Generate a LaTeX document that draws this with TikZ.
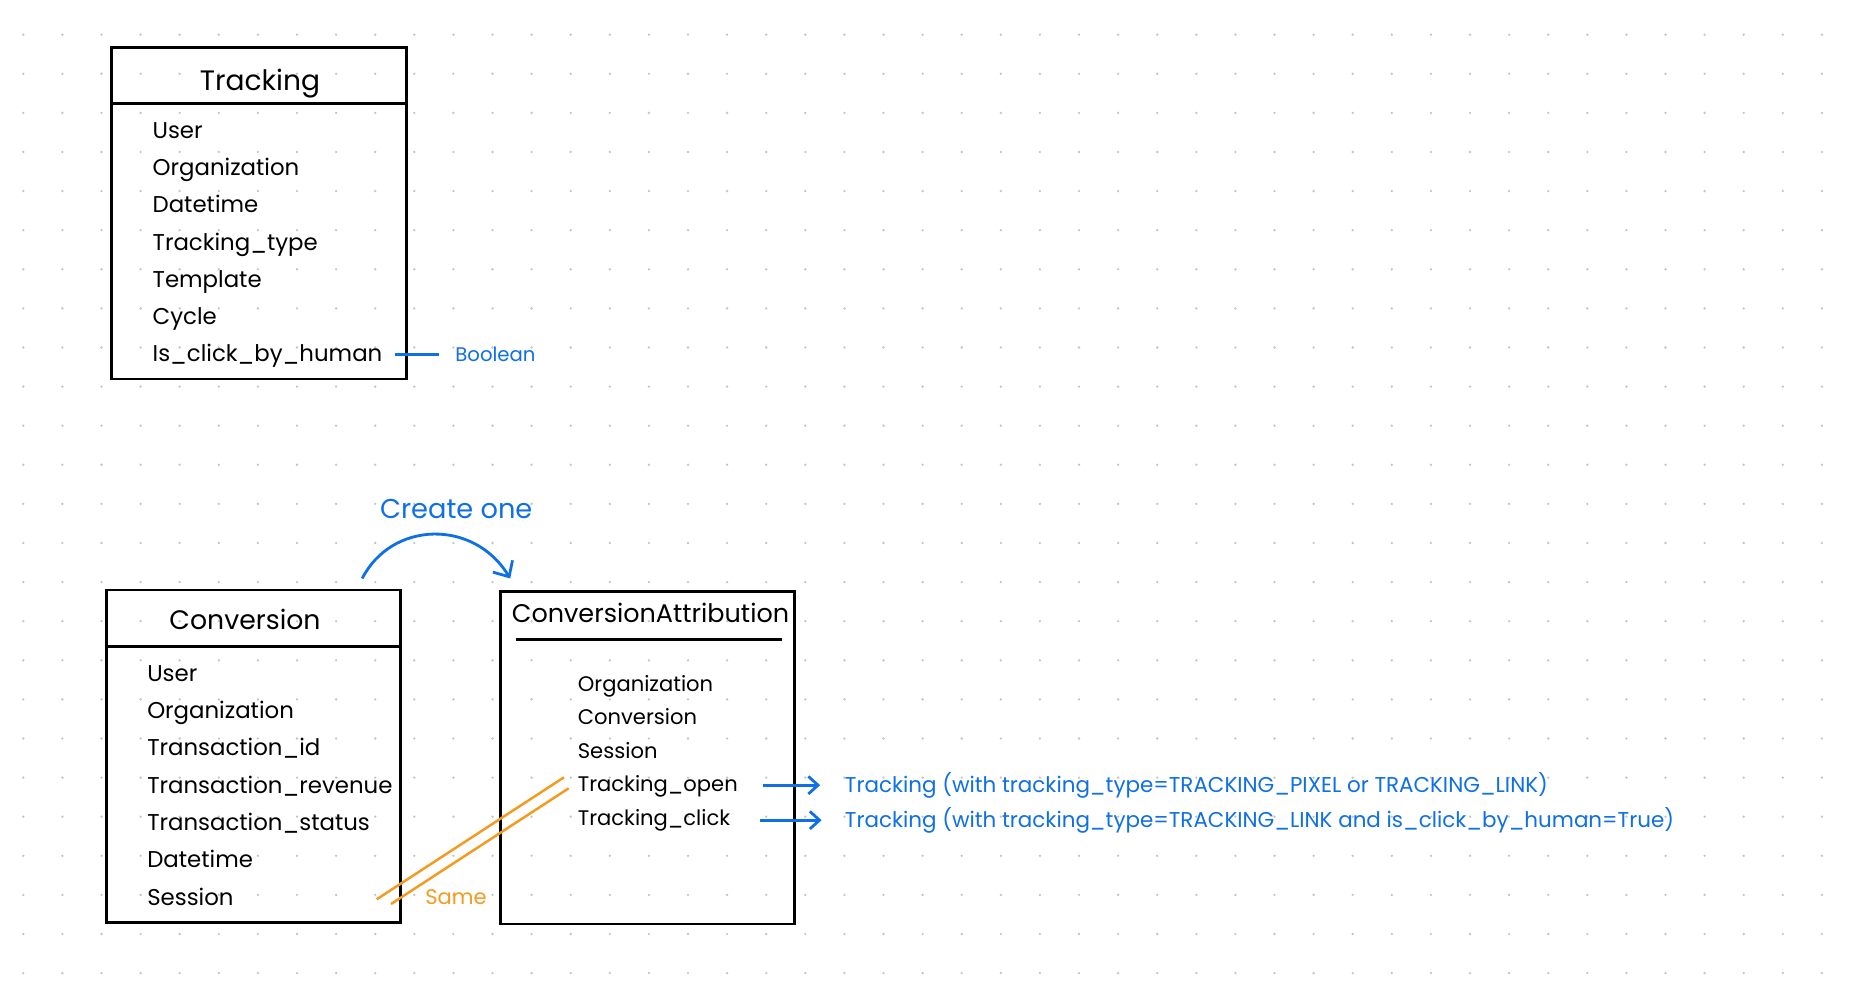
\documentclass[tikz,border=0pt]{standalone}
\usepackage{fontspec}
\setmainfont{Poppins}
\usepackage{tikz}
\usetikzlibrary{arrows.meta, positioning, calc}
\definecolor{sketchblue}{HTML}{0F6FE6}
\definecolor{sketchorange}{HTML}{F39A1F}
\definecolor{sketchdot}{HTML}{C4C4C4}

\begin{document}
\begin{tikzpicture}[
  entity/.style={draw, line width=1.7pt, inner sep=0pt},
  title/.style={anchor=base, inner sep=0pt, font=\fontsize{16}{19}\selectfont},
  fields/.style={anchor=base west, align=left, inner sep=0pt, font=\fontsize{13}{21.2}\selectfont},
  note/.style={anchor=base west, inner sep=0pt, text=sketchblue, font=\fontsize{12.2}{14}\selectfont},
  link/.style={sketchblue, line width=1.6pt},
  tip/.style={-{Straight Barb[length=5.5pt, width=10pt]}},
  same/.style={sketchorange, line width=1.4pt}
]
\useasboundingbox (0,0) rectangle (37.1,20);
% dotted canvas
\foreach \i in {0,...,46}
  \foreach \j in {0,...,24}
    \fill[sketchdot] (0.466+\i*0.782, 19.306-\j*0.782) circle (0.026);

% Tracking (fields node sits on its last line)
\node[entity, minimum width=5.886cm, minimum height=6.634cm] (trk) at (5.177,15.737) {};
\draw[line width=1.7pt] (trk.west |- 0,17.92) -- (trk.east |- 0,17.92);
\node[title] (trktitle) at (5.2,18.18) {Tracking};
\node[fields] (trkf) at (3.046,12.76) {User\\Organization\\Datetime\\Tracking\_type\\Template\\Cycle\\Is\_click\_by\_human};
\node[note, font=\fontsize{11.2}{13}\selectfont] (bool) at (9.1,12.766) {Boolean};
\coordinate (bool-tail) at ($(bool.west)+(-1.2,0)$);
\draw[link] (bool-tail) -- ([xshift=-0.314cm]bool.west);

% Conversion
\node[entity, minimum width=5.87cm, minimum height=6.646cm] (conv) at (5.065,4.877) {};
\draw[line width=1.7pt] (conv.west |- 0,7.066) -- (conv.east |- 0,7.066);
\node[title, font=\fontsize{15.2}{18}\selectfont] (convtitle) at (4.9,7.4) {Conversion};
\node[fields] (convf) at (2.938,1.9) {User\\Organization\\Transaction\_id\\Transaction\_revenue\\Transaction\_status\\Datetime\\Session};

% ConversionAttribution
\node[entity, minimum width=5.88cm, minimum height=6.646cm] (ca) at (12.94,4.843) {};
\node[title, font=\fontsize{14.5}{17}\selectfont] (catitle) at (13.01,7.546) {ConversionAttribution};
\draw[line width=1.7pt] (10.31,7.214) -- (15.64,7.214);
\node[fields, font=\fontsize{12}{19.05}\selectfont] (caf) at (11.55,3.5) {Organization\\Conversion\\Session\\Tracking\_open\\Tracking\_click};

% create one
\node[anchor=base, inner sep=0pt, text=sketchblue, font=\fontsize{15.5}{18}\selectfont] (create) at (9.124,9.634) {Create one};
\draw[link, -{Straight Barb[length=7pt, width=13pt]}] ([shift={(-0.786,0.2)}]conv.north east) .. controls +(0.586,1.15) and +(-0.73,1.2) .. ([shift={(0.234,0.234)}]ca.north west);

% same session
\coordinate (same-a1) at (7.534,2.014);
\coordinate (same-b1) at (11.28,4.454);
\coordinate (same-a2) at (7.82,1.92);
\coordinate (same-b2) at (11.374,4.234);
\draw[same] (same-a1) -- (same-b1);
\draw[same] (same-a2) -- (same-b2);
\node[anchor=base west, inner sep=0pt, text=sketchorange, font=\fontsize{12}{14}\selectfont] (same) at (8.5,1.92) {Same};

% tracking targets
\node[note] (opentxt) at (16.892,4.154) {Tracking (with tracking\_type=TRACKING\_PIXEL or TRACKING\_LINK)};
\node[note] (clicktxt) at (16.892,3.454) {Tracking (with tracking\_type=TRACKING\_LINK and is\_click\_by\_human=True)};
\coordinate (open-tail) at ($(opentxt.west)+(-1.624,0)$);
\coordinate (click-tail) at ($(clicktxt.west)+(-1.686,0)$);
\draw[link, tip] (open-tail) -- ([xshift=-0.49cm]opentxt.west);
\draw[link, tip] (click-tail) -- ([xshift=-0.46cm]clicktxt.west);
\end{tikzpicture}
\end{document}
